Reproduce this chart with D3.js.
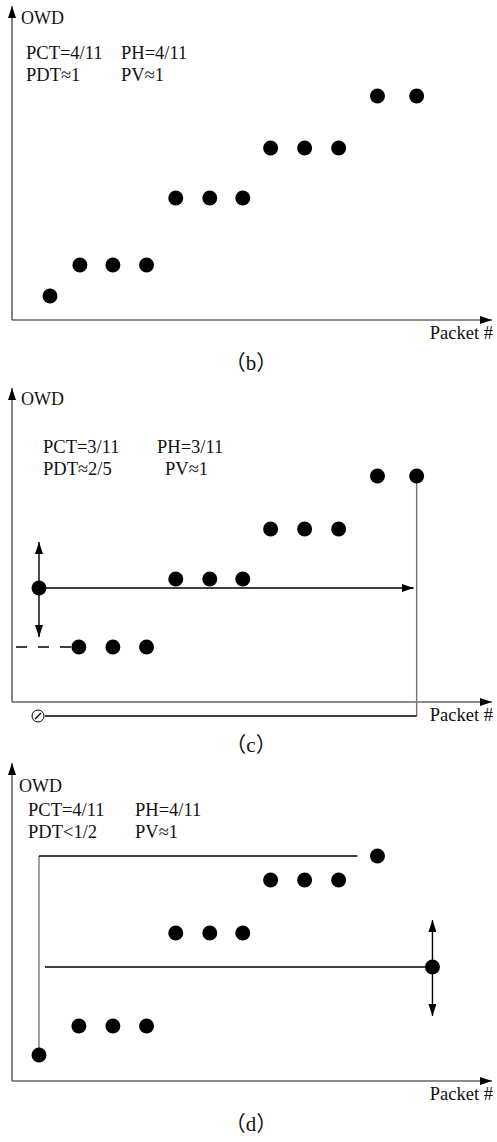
<!DOCTYPE html>
<html>
<head>
<meta charset="utf-8">
<script src="https://cdn.jsdelivr.net/npm/d3@7"></script>
<style>
  body { margin: 0; background: #fff; }
  svg { display: block; }
  text { font-family: "Liberation Serif", "Times New Roman", serif; fill: #111; }
</style>
</head>
<body>
<div class="figure"></div>
<script>
(() => {
  // packet position (x) and one-way delay (y) of every dot
  const packetsB = [1.32, 2.19, 3.15, 4.13, 4.98, 5.97, 6.93, 7.74, 8.73, 9.72, 10.85, 11.99];
  const owdB = [0.48, 1.1, 1.1, 1.1, 2.44, 2.44, 2.44, 3.44, 3.44, 3.44, 4.48, 4.48];

  const packetsC = [1, 2.16, 3.15, 4.13, 4.98, 5.97, 6.93, 7.74, 8.73, 9.72, 10.85, 11.99];
  const owdC = [2.28, 1.1, 1.1, 1.1, 2.46, 2.46, 2.46, 3.46, 3.46, 3.46, 4.52, 4.52];

  const packetsD = [1, 2.16, 3.15, 4.13, 4.98, 5.97, 6.93, 7.74, 8.73, 9.72, 10.85, 12.45];
  const owdD = [0.52, 1.1, 1.1, 1.1, 2.96, 2.96, 2.96, 4.02, 4.02, 4.02, 4.5, 2.28];

  const statsB = [["PCT=4/11", "PH=4/11"], ["PDT\u22481", "PV\u22481"]];
  const statsC = [["PCT=3/11", "PH=3/11"], ["PDT\u22482/5", "PV\u22481"]];
  const statsD = [["PCT=4/11", "PH=4/11"], ["PDT<1/2", "PV\u22481"]];

  const captions = ["b", "c", "d"];

  const width = 497, height = 1142;
  const axisLeft = 12, axisRight = 492;
  const r = 7.5;

  const svg = d3.select(".figure").append("svg")
    .attr("width", width).attr("height", height);

  const defs = svg.append("defs");
  defs.append("marker")
    .attr("id", "head")
    .attr("viewBox", "0 0 12 8")
    .attr("refX", 12).attr("refY", 4)
    .attr("markerWidth", 12).attr("markerHeight", 8)
    .attr("markerUnits", "userSpaceOnUse")
    .attr("orient", "auto")
    .append("path").attr("d", "M0,0L12,4L0,8Z").attr("fill", "#000");

  const x = d3.scaleLinear().domain([1, 12]).range([39, 417]);

  function panel(cfg) {
    const y = d3.scaleLinear().domain([0, 1]).range([cfg.axisY, cfg.axisY - 50]);
    const g = svg.append("g");

    // axes
    g.append("line")
      .attr("x1", axisLeft).attr("y1", cfg.axisY)
      .attr("x2", axisLeft).attr("y2", cfg.topY)
      .attr("stroke", "#666").attr("stroke-width", 1.6)
      .attr("marker-end", "url(#head)");
    g.append("line")
      .attr("x1", axisLeft).attr("y1", cfg.axisY)
      .attr("x2", axisRight).attr("y2", cfg.axisY)
      .attr("stroke", "#666").attr("stroke-width", 1.6)
      .attr("marker-end", "url(#head)");

    g.append("text").attr("x", cfg.owdX).attr("y", cfg.owdY)
      .attr("font-size", 18).text("OWD");
    g.append("text").attr("x", axisRight + 1).attr("y", cfg.axisY + 19)
      .attr("text-anchor", "end").attr("font-size", 18.5).text("Packet #");

    cfg.stats.forEach((row, i) => {
      row.forEach((s, j) => {
        g.append("text")
          .attr("x", cfg.statX[i][j]).attr("y", cfg.statY + i * 22)
          .attr("font-size", 18.5).text(s);
      });
    });

    const cap = g.append("text").attr("x", 251).attr("y", cfg.axisY + 50)
      .attr("text-anchor", "middle").attr("font-size", 21);
    cap.append("tspan").style("font-family", "'Noto Sans CJK SC', sans-serif")
      .text("\uff08");
    cap.append("tspan").text(cfg.caption);
    cap.append("tspan").style("font-family", "'Noto Sans CJK SC', sans-serif")
      .text("\uff09");

    cfg.extra && cfg.extra(g, y);

    g.selectAll("circle.pt")
      .data(cfg.packets.map((p, i) => ({ p, v: cfg.owd[i] })))
      .join("circle")
      .attr("class", "pt")
      .attr("cx", (d) => x(d.p))
      .attr("cy", (d) => y(d.v))
      .attr("r", r)
      .attr("fill", "#000");
  }

  function line(g, x1, y1, x2, y2, color, arrow, dash) {
    const l = g.append("line")
      .attr("x1", x1).attr("y1", y1).attr("x2", x2).attr("y2", y2)
      .attr("stroke", color || "#000").attr("stroke-width", 1.4);
    if (arrow) l.attr("marker-end", "url(#head)");
    if (dash) l.attr("stroke-dasharray", dash);
    return l;
  }

  panel({
    axisY: 320, topY: 6, owdX: 21, owdY: 24,
    statY: 59, statX: [[26, 121], [26, 121]],
    stats: statsB, caption: captions[0],
    packets: packetsB, owd: owdB,
  });

  panel({
    axisY: 702, topY: 388, owdX: 21, owdY: 405,
    statY: 453, statX: [[43, 157], [43, 165]],
    stats: statsC, caption: captions[1],
    packets: packetsC, owd: owdC,
    extra: (g, y) => {
      const cx = x(packetsC[0]), cy = y(owdC[0]);
      const lastX = x(packetsC[11]), lastY = y(owdC[11]);
      const lowY = y(owdC[1]);
      // up / down arrows on the first dot
      line(g, cx, cy, cx, cy - 46, "#000", true);
      line(g, cx, cy, cx, cy + 49, "#000", true);
      // horizontal arrow to the last packet
      line(g, cx, cy, lastX - 3, cy, "#000", true);
      // dashed lead-in to the low row
      line(g, 16, lowY, x(packetsC[1]), lowY, "#000", false, "11,11");
      // vertical drop from last packet and return line to the null marker
      const baseY = 716;
      line(g, lastX, lastY, lastX, baseY, "#777");
      line(g, cx + 6, baseY, lastX, baseY, "#000");
      g.append("circle").attr("cx", cx - 1).attr("cy", baseY).attr("r", 6)
        .attr("fill", "#fff").attr("stroke", "#000").attr("stroke-width", 1);
      line(g, cx - 4, baseY + 3, cx + 2, baseY - 3, "#000");
    },
  });

  panel({
    axisY: 1081, topY: 763, owdX: 19, owdY: 792,
    statY: 816, statX: [[28, 135], [28, 135]],
    stats: statsD, caption: captions[2],
    packets: packetsD, owd: owdD,
    extra: (g, y) => {
      const fx = x(packetsD[0]), fy = y(owdD[0]);
      const topY = y(owdD[10]);
      const rx = x(packetsD[11]), ry = y(owdD[11]);
      // bracket from the first packet up to the top level
      line(g, fx, fy, fx, topY, "#777");
      line(g, fx, topY, x(packetsD[10]) - 20, topY, "#000");
      // horizontal reference to the late packet
      line(g, 45, ry, rx, ry, "#000");
      line(g, rx, ry, rx, ry - 47, "#000", true);
      line(g, rx, ry, rx, ry + 49, "#000", true);
    },
  });
})();
</script>
</body>
</html>
